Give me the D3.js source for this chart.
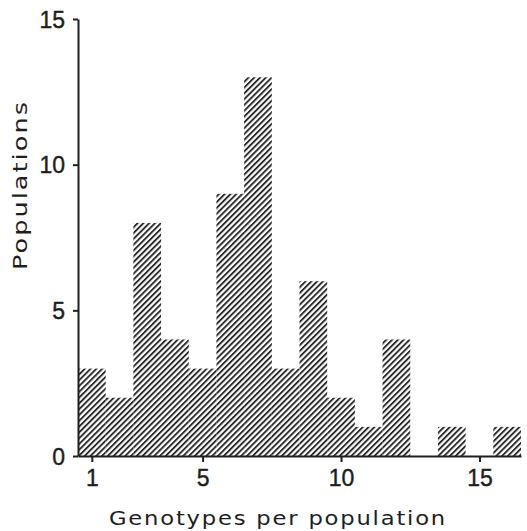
<!DOCTYPE html>
<html><head><meta charset="utf-8">
<script src="https://cdn.jsdelivr.net/npm/d3@7"></script>
<style>body{margin:0;background:#fff}svg{display:block}</style>
</head><body>
<script>
const categories = [1,2,3,4,5,6,7,8,9,10,11,12,13,14,15,16];
const counts = [3,2,8,4,3,9,13,3,6,2,1,4,0,1,0,1];
const xTicks = [1,5,10,15];
const yTicks = [0,5,10,15];

const W=527,H=531;
const svg=d3.select("body").append("svg").attr("width",W).attr("height",H);
const x=d3.scaleLinear().domain([0.5,16.5]).range([78,521]);
const y=d3.scaleLinear().domain([0,15]).range([456,19]);
const ink="#1e1e1e";

const defs=svg.append("defs");
const pat=defs.append("pattern").attr("id","hatch").attr("patternUnits","userSpaceOnUse")
  .attr("width",4.1).attr("height",4.1).attr("patternTransform","rotate(45)");
pat.append("rect").attr("x",0).attr("y",0).attr("width",1.9).attr("height",4.1).attr("fill","#2a2a2a");

svg.append("g").selectAll("rect").data(categories.map((c,i)=>({c,v:counts[i]})).filter(d=>d.v>0))
  .join("rect")
  .attr("x",d=>x(d.c-0.5)).attr("width",d=>x(d.c+0.5)-x(d.c-0.5))
  .attr("y",d=>y(d.v)).attr("height",d=>y(0)-y(d.v))
  .attr("fill","url(#hatch)");

const font="'Liberation Sans', Arial, sans-serif";
const xAxis=d3.axisBottom(x).tickValues(xTicks).tickSize(6).tickPadding(8).tickSizeOuter(0);
const gx=svg.append("g").attr("transform",`translate(0,${y(0)})`).call(xAxis);
const yAxis=d3.axisLeft(y).tickValues(yTicks).tickSize(5).tickPadding(8).tickSizeOuter(0);
const gy=svg.append("g").attr("transform",`translate(${x(0.5)},0)`).call(yAxis);
[gx,gy].forEach(g=>{
  g.selectAll("path.domain").attr("stroke",ink).attr("stroke-width",2);
  g.selectAll(".tick line").attr("stroke",ink).attr("stroke-width",2);
  g.selectAll(".tick text").attr("fill",ink).attr("font-family",font).attr("font-size",23)
    .attr("stroke",ink).attr("stroke-width",0.4);
});
gy.selectAll(".tick text").attr("dy","0.36em");

const lfont="'DejaVu Sans', sans-serif";
svg.append("text").attr("x",278).attr("y",525).attr("text-anchor","middle")
  .attr("font-family",lfont).attr("font-size",19).attr("letter-spacing",1.5).attr("fill",ink)
  .attr("textLength",338).attr("lengthAdjust","spacingAndGlyphs")
  .text("Genotypes per population");
svg.append("text").attr("transform","translate(27,185) rotate(-90)").attr("text-anchor","middle")
  .attr("font-family",lfont).attr("font-size",19).attr("letter-spacing",1.5).attr("fill",ink)
  .attr("textLength",170).attr("lengthAdjust","spacingAndGlyphs")
  .text("Populations");
</script>
</body></html>
